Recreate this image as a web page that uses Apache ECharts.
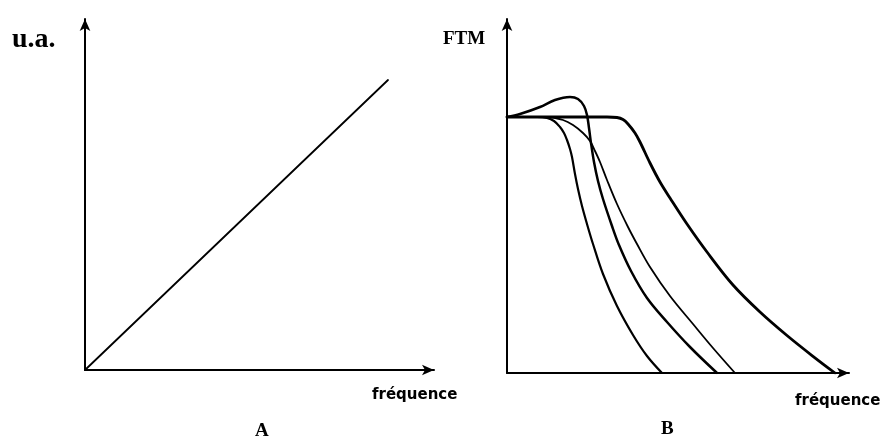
<!DOCTYPE html>
<html>
<head>
<meta charset="utf-8">
<script src="https://cdn.jsdelivr.net/npm/echarts@6/dist/echarts.min.js"></script>
<style>html,body{margin:0;padding:0;background:#fff}#c{width:883px;height:440px}</style>
</head>
<body>
<div id="c"></div>
<script>
// Panel A: linear response (frequency offset, amplitude) in arbitrary units
const lineA = [[0, 0], [303, 290]];
// Panel B: FTM curves (frequency, FTM) in arbitrary units, plateau = 256
const curveA = [[0,256],[30,256],[40,255],[47,252],[53,246],[57,240],[60,233],[63,224],[65,216],[68,199],[71,184],[75,167],[80,149],[86,129],[96,99],[110,67],[126,38],[140,17],[155,0]];
const curveBump = [[0,256],[13,259],[33,266],[48,273],[63,276],[71,274],[77,267],[80,258],[82,245],[84,230],[87,211],[91,192],[96,174],[105,147],[112,128],[124,102],[140,75],[160,51],[183,26],[210,0]];
const curveC = [[0,256],[40,256],[56,253],[66,248],[76,240],[83,232],[88,222],[93,211],[100,193],[110,169],[121,146],[130,129],[143,106],[163,77],[186,49],[206,25],[228,0]];
const curveD = [[0,256],[100,256],[110,255.5],[116,253.5],[121,249],[128,240],[133,231],[143,210],[153,191],[163,175],[180,149],[200,121],[226,88],[253,61],[280,37.5],[306,16.7],[328,0]];
const labels = { aY: 'u.a.', bY: 'FTM', x: 'fréquence', aTitle: 'A', bTitle: 'B' };

const chart = echarts.init(document.getElementById('c'));
function axis(max, gi) {
  return {
    type: 'value', gridIndex: gi, min: 0, max: max,
    axisLine: { show: true, symbol: ['none', 'arrow'], symbolSize: [8, 12], lineStyle: { color: '#000', width: 2 } },
    axisTick: { show: false }, axisLabel: { show: false }, splitLine: { show: false }
  };
}
function line(data, w, xi) {
  return { type: 'line', xAxisIndex: xi, yAxisIndex: xi, data: data, smooth: 0.35, symbol: 'none',
    lineStyle: { color: '#000', width: w, join: 'round', cap: 'round' }, silent: true, animation: false };
}
function txt(s, left, top, size, family) {
  return { type: 'text', left: left, top: top,
    style: { text: s, fontSize: size, fontWeight: 'bold', fontFamily: family, fill: '#000' } };
}
chart.setOption({
  animation: false,
  grid: [
    { left: 85, top: 19, width: 349, height: 351 },
    { left: 507, top: 19, width: 342, height: 354 }
  ],
  xAxis: [axis(349, 0), axis(342, 1)],
  yAxis: [axis(351, 0), axis(354, 1)],
  series: [
    line(lineA, 1.8, 0),
    line(curveA, 2.2, 1),
    line(curveBump, 2.5, 1),
    line(curveC, 1.8, 1),
    line(curveD, 2.8, 1)
  ],
  graphic: [
    txt(labels.aY, 12, 26, 28, 'Liberation Serif'),
    txt(labels.bY, 443, 30, 19, 'Liberation Serif'),
    txt(labels.x, 372, 388, 15, 'DejaVu Sans'),
    txt(labels.x, 795, 394, 15, 'DejaVu Sans'),
    txt(labels.aTitle, 255, 422, 19, 'Liberation Serif'),
    txt(labels.bTitle, 661, 420, 19, 'Liberation Serif')
  ]
});
</script>
</body>
</html>
